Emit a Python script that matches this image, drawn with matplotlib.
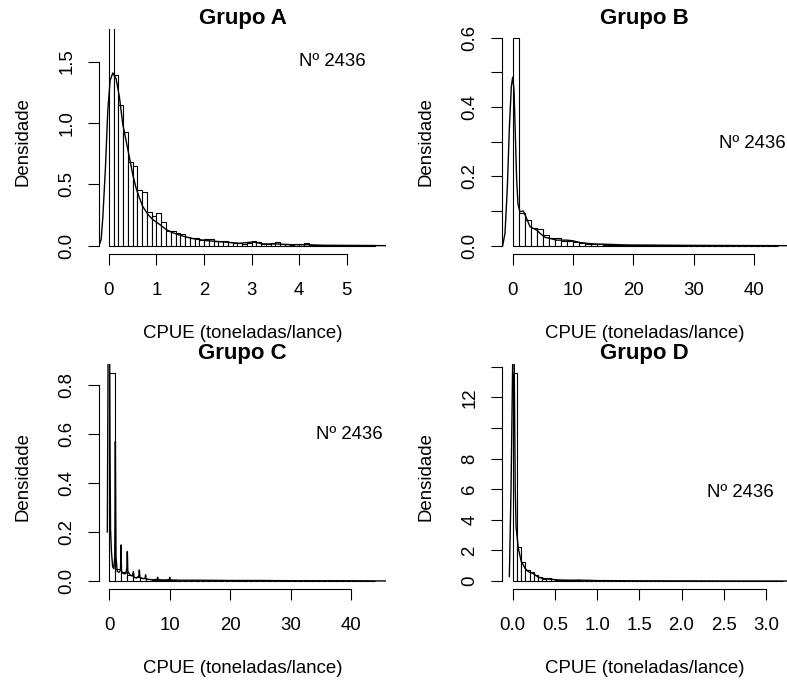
import matplotlib.pyplot as plt
import numpy as np

plt.rcParams["font.family"] = ["Liberation Sans", "DejaVu Sans"]

# valores
titles = ["Grupo A", "Grupo B", "Grupo C", "Grupo D"]
note = "Nº 2436"
xlabel = "CPUE (toneladas/lance)"
ylabel = "Densidade"

# Grupo A: histograma (classes de 0.1) e curva de densidade
a_width = 0.1
a_heights = [2.0, 1.39, 1.15, 0.925, 0.683, 0.65, 0.45, 0.435, 0.277, 0.24,
             0.266, 0.19, 0.12, 0.12, 0.10, 0.095, 0.073, 0.063, 0.063, 0.046,
             0.052, 0.052, 0.04, 0.035, 0.04, 0.027, 0.02, 0.02, 0.014, 0.025,
             0.04, 0.027, 0.015, 0.012, 0.02, 0.027, 0.012, 0.01, 0.008, 0.01,
             0.015, 0.02, 0.005, 0.006, 0.004, 0.005, 0.003, 0.004, 0.003, 0.004,
             0.002, 0.003, 0.002, 0.002, 0.003, 0.002]
a_dens_x = [-0.21, -0.165, -0.13, -0.074, -0.025, 0.024, 0.081, 0.15, 0.22, 0.29,
            0.36, 0.43, 0.50, 0.57, 0.64, 0.71, 0.82, 0.92, 1.07, 1.21, 1.35,
            1.56, 1.77, 2.05, 2.40, 2.75, 3.03, 3.24, 3.52, 3.80, 4.15, 4.5, 5.83]
a_dens_y = [0.0, 0.05, 0.227, 0.637, 1.10, 1.347, 1.407, 1.36, 1.21, 0.99,
            0.855, 0.72, 0.58, 0.47, 0.39, 0.32, 0.254, 0.213, 0.172, 0.13, 0.104,
            0.077, 0.057, 0.041, 0.03, 0.019, 0.03, 0.014, 0.014, 0.008, 0.008,
            0.003, 0.0]

# Grupo B: classes de 1
b_width = 1.0
b_heights = [0.6, 0.093, 0.074, 0.052, 0.047, 0.031, 0.021, 0.021, 0.0144, 0.0144,
             0.0096, 0.0067, 0.005, 0.004, 0.004, 0.003, 0.003, 0.002, 0.002, 0.002,
             0.0015, 0.001, 0.001, 0.001, 0.001, 0.0008, 0.0008, 0.0006, 0.0005,
             0.0005, 0.0004, 0.0004, 0.0003, 0.0003, 0.0003, 0.0002, 0.0002, 0.0002,
             0.0001, 0.0001, 0.0001, 0.0001, 0.0001, 0.0001]
b_dens_x = [-1.66, -1.27, -0.88, -0.55, -0.22, 0.0, 0.22, 0.44, 0.66, 0.88, 1.2,
            1.77, 2.3, 2.87, 3.4, 4.0, 4.5, 5.4, 6.2, 7.3, 9.0, 10.0, 11.2, 13.4,
            15.6, 19.0, 27.7, 45.5]
b_dens_y = [0.0, 0.036, 0.17, 0.34, 0.46, 0.486, 0.45, 0.32, 0.19, 0.12, 0.098,
            0.10, 0.079, 0.055, 0.05, 0.045, 0.036, 0.024, 0.021, 0.016, 0.016,
            0.014, 0.009, 0.005, 0.004, 0.002, 0.001, 0.0]

# Grupo C: classes de 1
c_width = 1.0
c_heights = [0.85, 0.05, 0.038, 0.025, 0.018, 0.011, 0.008, 0.004, 0.003, 0.002,
             0.003, 0.001, 0.001, 0.001, 0.001, 0.0008, 0.0006, 0.0005, 0.0005,
             0.0004, 0.0004, 0.0003, 0.0003, 0.0003, 0.0002, 0.0002, 0.0002,
             0.0002, 0.0001, 0.0001, 0.0001, 0.0001, 0.0001, 0.0001, 0.0001,
             0.0001, 0.0001, 0.0001, 0.0001, 0.0001, 0.0001, 0.0001, 0.0001, 0.0001]
c_dens_x = [-0.33, -0.2, -0.1, 0.0, 0.1, 0.2, 0.35, 0.55, 0.75, 0.9, 1.0, 1.1,
            1.3, 1.6, 1.85, 1.93, 2.02, 2.3, 2.7, 2.9, 2.98, 3.06, 3.4, 3.8, 3.98,
            4.1, 4.5, 4.88, 4.97, 5.06, 5.5, 5.92, 6.0, 6.08, 7.0, 7.92, 8.0, 8.08,
            9.0, 9.92, 10.0, 10.08, 12.0, 15.0, 20.0, 25.0, 30.0, 35.0, 40.0, 45.8]
c_dens_y = [0.2, 0.95, 1.2, 1.5, 0.6, 0.21, 0.12, 0.058, 0.05, 0.1, 0.57, 0.1,
            0.04, 0.035, 0.045, 0.147, 0.04, 0.03, 0.03, 0.05, 0.12, 0.04, 0.025,
            0.02, 0.038, 0.015, 0.012, 0.02, 0.045, 0.015, 0.01, 0.01, 0.025,
            0.008, 0.005, 0.006, 0.015, 0.005, 0.004, 0.005, 0.015, 0.004, 0.003,
            0.003, 0.002, 0.002, 0.001, 0.001, 0.001, 0.0]

# Grupo D: classes de 0.05
d_width = 0.05
d_heights = [13.6, 2.24, 1.26, 0.72, 0.61, 0.39, 0.24, 0.11, 0.17, 0.11,
             0.08, 0.06, 0.07, 0.05, 0.04, 0.05, 0.03, 0.03, 0.02, 0.02,
             0.02, 0.015, 0.015, 0.01, 0.012, 0.01, 0.01, 0.008, 0.008, 0.006,
             0.006, 0.005, 0.005, 0.004, 0.004, 0.004, 0.003, 0.003, 0.003, 0.003,
             0.002, 0.002, 0.002, 0.002, 0.002, 0.002, 0.001, 0.001, 0.001, 0.001,
             0.001, 0.001, 0.001, 0.001, 0.001, 0.001, 0.001, 0.001, 0.001, 0.001,
             0.001, 0.001, 0.001, 0.001]
d_dens_x = [-0.04, -0.02, 0.0, 0.015, 0.03, 0.04, 0.067, 0.1, 0.146, 0.186,
            0.245, 0.3, 0.36, 0.42, 0.54, 0.7, 0.8, 1.0, 1.5, 2.0, 2.5, 3.25]
d_dens_y = [0.3, 6.0, 14.5, 16.0, 6.0, 3.5, 2.13, 1.3, 0.83, 0.61,
            0.48, 0.26, 0.17, 0.13, 0.07, 0.05, 0.06, 0.03, 0.015, 0.01, 0.005, 0.0]

panels = [
    dict(width=a_width, heights=a_heights, dx=a_dens_x, dy=a_dens_y,
         xlim=(-0.21, 5.83), ylim=(-0.068, 1.762),
         xticks=[0, 1, 2, 3, 4, 5], xlabels=["0", "1", "2", "3", "4", "5"],
         yticks=[0, 0.5, 1.0, 1.5], ylabels=["0.0", "0.5", "1.0", "1.5"],
         note_xy=(4.7, 1.5)),
    dict(width=b_width, heights=b_heights, dx=b_dens_x, dy=b_dens_y,
         xlim=(-1.77, 45.5), ylim=(-0.024, 0.624),
         xticks=[0, 10, 20, 30, 40], xlabels=["0", "10", "20", "30", "40"],
         yticks=[0, 0.1, 0.2, 0.3, 0.4, 0.5, 0.6],
         ylabels=["0.0", "", "0.2", "", "0.4", "", "0.6"],
         note_xy=(39.7, 0.296)),
    dict(width=c_width, heights=c_heights, dx=c_dens_x, dy=c_dens_y,
         xlim=(-1.71, 45.8), ylim=(-0.034, 0.884),
         xticks=[0, 10, 20, 30, 40], xlabels=["0", "10", "20", "30", "40"],
         yticks=[0, 0.2, 0.4, 0.6, 0.8], ylabels=["0.0", "0.2", "0.4", "0.6", "0.8"],
         note_xy=(39.8, 0.596)),
    dict(width=d_width, heights=d_heights, dx=d_dens_x, dy=d_dens_y,
         xlim=(-0.127, 3.25), ylim=(-0.54, 14.16),
         xticks=[0, 0.5, 1.0, 1.5, 2.0, 2.5, 3.0],
         xlabels=["0.0", "0.5", "1.0", "1.5", "2.0", "2.5", "3.0"],
         yticks=[0, 2, 4, 6, 8, 10, 12, 14],
         ylabels=["0", "2", "4", "6", "8", "", "12", ""],
         note_xy=(2.7, 5.8)),
]

W, H = 787, 682
# posição das áreas de plotagem em pixels: esquerda, topo, largura, altura
boxes = [(99, 29.4, 287, 224.6), (502, 29.4, 285, 224.6),
         (99, 364.4, 287, 224.9), (502, 364.4, 285, 224.9)]

fig = plt.figure(figsize=(W / 100, H / 100), dpi=100)

for title, p, (left, top, w, h) in zip(titles, panels, boxes):
    ax = fig.add_axes([left / W, (H - top - h) / H, w / W, h / H])
    lefts = np.arange(len(p["heights"])) * p["width"]
    ax.bar(lefts, p["heights"], width=p["width"], align="edge",
           color="white", edgecolor="black", linewidth=0.8)
    ax.plot(p["dx"], p["dy"], color="black", linewidth=1.0)
    ax.set_xlim(*p["xlim"])
    ax.set_ylim(*p["ylim"])

    ax.set_xticks(p["xticks"], p["xlabels"])
    ax.set_yticks(p["yticks"], p["ylabels"])
    for lab in ax.get_yticklabels():
        lab.set_rotation(90)
        lab.set_verticalalignment("center")
    ax.tick_params(axis="both", length=8, width=0.8, labelsize=13.4)
    ax.tick_params(axis="x", pad=12)
    ax.tick_params(axis="y", pad=9)

    for side in ["top", "right"]:
        ax.spines[side].set_visible(False)
    ax.spines["left"].set_bounds(p["yticks"][0], p["yticks"][-1])
    ax.spines["bottom"].set_bounds(p["xticks"][0], p["xticks"][-1])
    ax.spines["left"].set_linewidth(0.8)
    ax.spines["bottom"].set_linewidth(0.8)

    ax.set_title(title, fontsize=16, fontweight="bold", pad=2)
    ax.set_xlabel(xlabel, fontsize=13.4)
    ax.set_ylabel(ylabel, fontsize=13.4)
    ax.xaxis.set_label_coords(0.5, -71 / h)
    ax.yaxis.set_label_coords(-67 / w, 0.5)
    ax.text(*p["note_xy"], note, fontsize=13.4, ha="center", va="center")

fig.savefig("out.png", dpi=100)
